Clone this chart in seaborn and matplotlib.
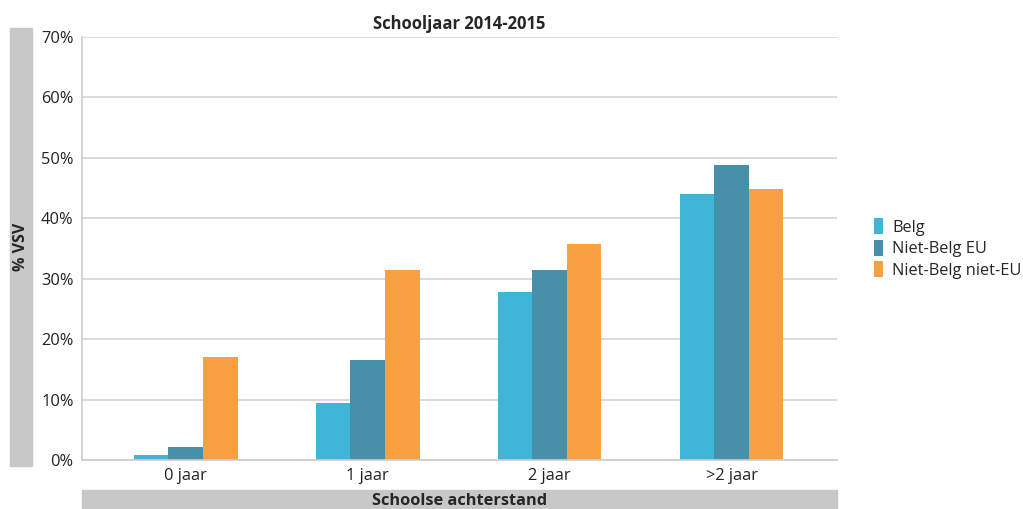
import pandas as pd
import seaborn as sns
import matplotlib.pyplot as plt
from matplotlib.patches import Rectangle
from matplotlib.ticker import PercentFormatter

# Data
categorieen = ["0 jaar", "1 jaar", "2 jaar", ">2 jaar"]
groepen = ["Belg", "Niet-Belg EU", "Niet-Belg niet-EU"]
belg = [0.8, 9.5, 27.8, 44.0]
niet_belg_eu = [2.1, 16.5, 31.4, 48.8]
niet_belg_niet_eu = [17.0, 31.5, 35.8, 44.9]
kleuren = ["#3fb5d8", "#4691a9", "#f9a043"]

df = pd.DataFrame({
    "achterstand": categorieen * 3,
    "groep": [g for g in groepen for _ in categorieen],
    "vsv": belg + niet_belg_eu + niet_belg_niet_eu,
})

sns.set_style("white")
plt.rcParams["font.family"] = ["Open Sans", "DejaVu Sans"]

fig = plt.figure(figsize=(10.23, 5.09), dpi=100)
ax = fig.add_axes([0.0802, 0.0963, 0.738, 0.831])

sns.barplot(data=df, x="achterstand", y="vsv", hue="groep", palette=kleuren,
            width=0.57, saturation=1, linewidth=0, ax=ax, zorder=2)

ax.set_xlim(-0.57, 3.58)
ax.set_ylim(0, 70)
ax.set_yticks(range(0, 71, 10))
ax.yaxis.set_major_formatter(PercentFormatter(decimals=0))
ax.grid(axis="y", color="#d4d4d4", linewidth=1.2, zorder=0)
ax.set_axisbelow(True)
for s in ["top", "right"]:
    ax.spines[s].set_visible(False)
for s in ["left", "bottom"]:
    ax.spines[s].set_color("#cccccc")
    ax.spines[s].set_linewidth(1.2)
ax.tick_params(length=0, labelsize=11.8, colors="#222222", pad=6)
ax.set_xlabel("")
ax.set_ylabel("")
ax.set_title("Schooljaar 2014-2015", fontsize=12, fontweight="bold", pad=6)

ax.legend(title=None, frameon=False, loc="center left",
          bbox_to_anchor=(1.03, 0.5), fontsize=11.8, handlelength=0.5,
          handleheight=1.1, handletextpad=0.6, labelspacing=0.25)

# grijze labelbalken
fig.patches.append(Rectangle((0.0098, 0.0845), 0.0215, 0.8605,
                             transform=fig.transFigure, color="#c8c8c9", zorder=0))
fig.text(0.0205, 0.515, "% VSV", rotation=90, ha="center", va="center",
         fontsize=11.5, fontweight="bold")
fig.patches.append(Rectangle((0.0802, 0.0), 0.738, 0.0373,
                             transform=fig.transFigure, color="#c8c8c9", zorder=0))
fig.text(0.449, 0.0165, "Schoolse achterstand", ha="center", va="center",
         fontsize=11.8, fontweight="bold")

plt.savefig("out.png", dpi=100)
